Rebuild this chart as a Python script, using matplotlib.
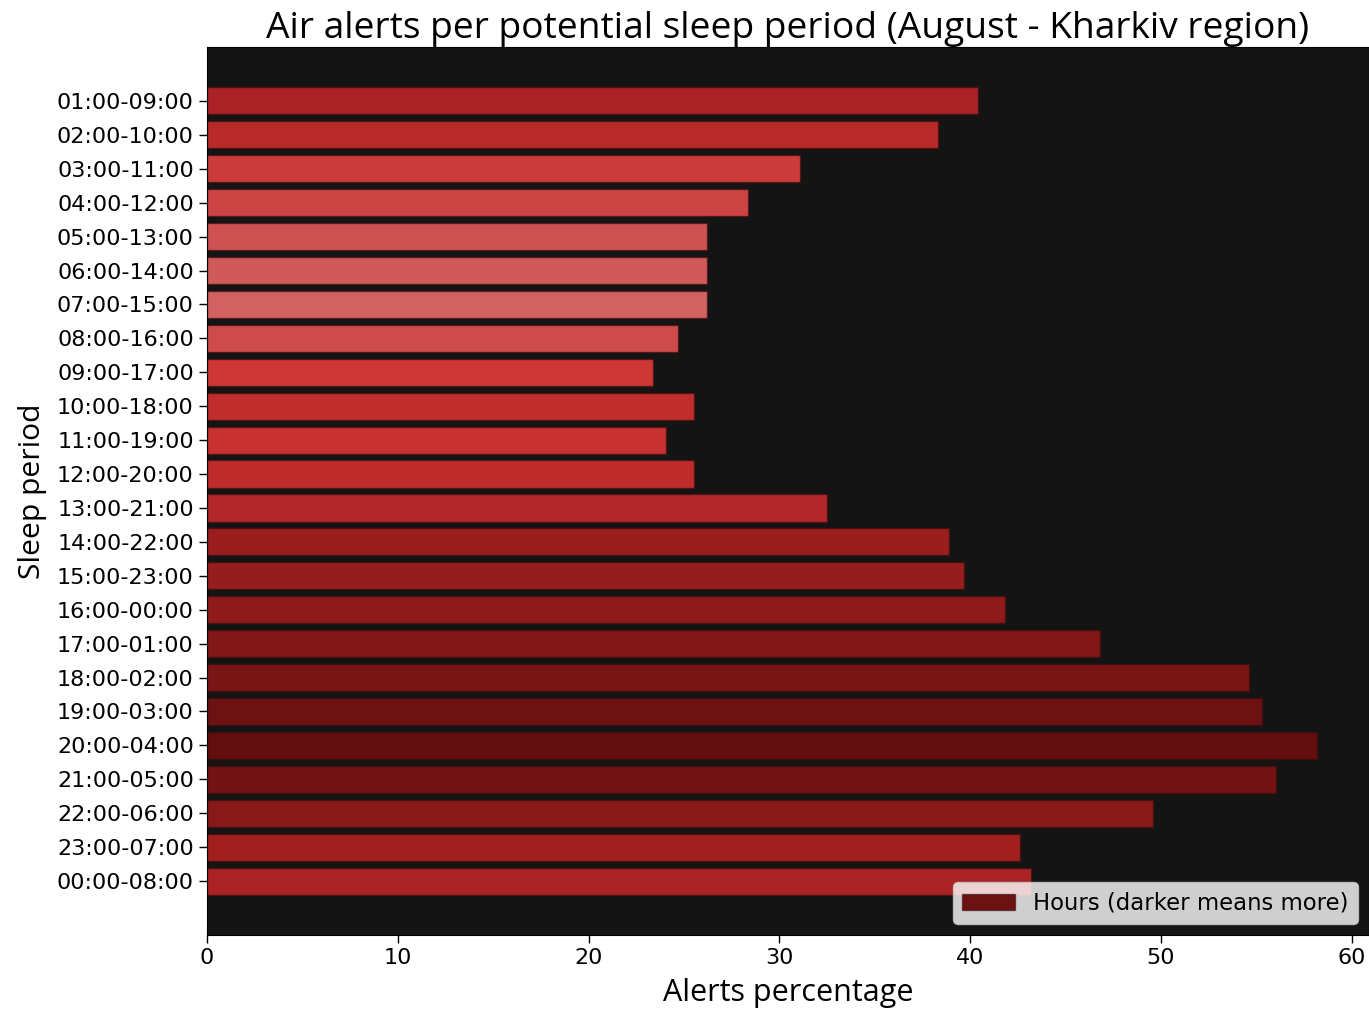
import matplotlib
matplotlib.use("Agg")
import matplotlib.pyplot as plt
from matplotlib.patches import Patch

periods = ["01:00-09:00", "02:00-10:00", "03:00-11:00", "04:00-12:00",
           "05:00-13:00", "06:00-14:00", "07:00-15:00", "08:00-16:00",
           "09:00-17:00", "10:00-18:00", "11:00-19:00", "12:00-20:00",
           "13:00-21:00", "14:00-22:00", "15:00-23:00", "16:00-00:00",
           "17:00-01:00", "18:00-02:00", "19:00-03:00", "20:00-04:00",
           "21:00-05:00", "22:00-06:00", "23:00-07:00", "00:00-08:00"]
alerts_pct = [40.4, 38.3, 31.1, 28.35, 26.2, 26.2, 26.2, 24.7,
              23.4, 25.5, 24.05, 25.5, 32.5, 38.9, 39.7, 41.8,
              46.8, 54.6, 55.3, 58.2, 56.0, 49.6, 42.6, 43.2]
# shade per period: darker = more alert hours
bar_colors = ["#ab2226", "#b8292a", "#cb3b3b", "#cd4444", "#cf5252", "#d05a5a",
              "#d26262", "#cd4b4b", "#ce3535", "#c02d2d", "#c93030", "#bd2b2b",
              "#b2272a", "#9a1e1e", "#961d1d", "#8e1a1a", "#821717", "#7a1515",
              "#6c1212", "#630e0e", "#741313", "#881919", "#a21f1f", "#ab2224"]

fig = plt.figure(figsize=(13.69, 10.10), dpi=100)
ax = fig.add_axes([207 / 1369, 75 / 1010, 1 - 207 / 1369, (935 - 47) / 1010])
ax.set_facecolor("#141414")

ypos = list(range(len(periods)))
ax.barh(ypos, alerts_pct, height=0.8, color=bar_colors,
        edgecolor=(0.25, 0.05, 0.05, 0.6), linewidth=1)
ax.set_yticks(ypos)
ax.set_yticklabels(periods)
ax.set_ylim(len(periods) - 1 + 0.4 + 1.19, -0.4 - 1.19)
ax.set_xlim(0, 60.9)
ax.set_xticks([0, 10, 20, 30, 40, 50, 60])
ax.tick_params(axis="both", labelsize=16, length=6, width=1)

ax.set_title("Air alerts per potential sleep period (August - Kharkiv region)",
             family="Open Sans", fontsize=26.7, pad=5)
ax.set_xlabel("Alerts percentage", family="Open Sans", fontsize=22, labelpad=7)
ax.set_ylabel("Sleep period", family="Open Sans", fontsize=21.6, labelpad=7)

handle = Patch(facecolor="#6c1212", edgecolor=(0.25, 0.05, 0.05, 0.6))
ax.legend([handle], ["Hours (darker means more)"], loc="lower right",
          fontsize=16.4, framealpha=0.8, facecolor="white", edgecolor="#cccccc",
          borderaxespad=0.5, handlelength=2.3)

fig.savefig("out.png", dpi=100)
